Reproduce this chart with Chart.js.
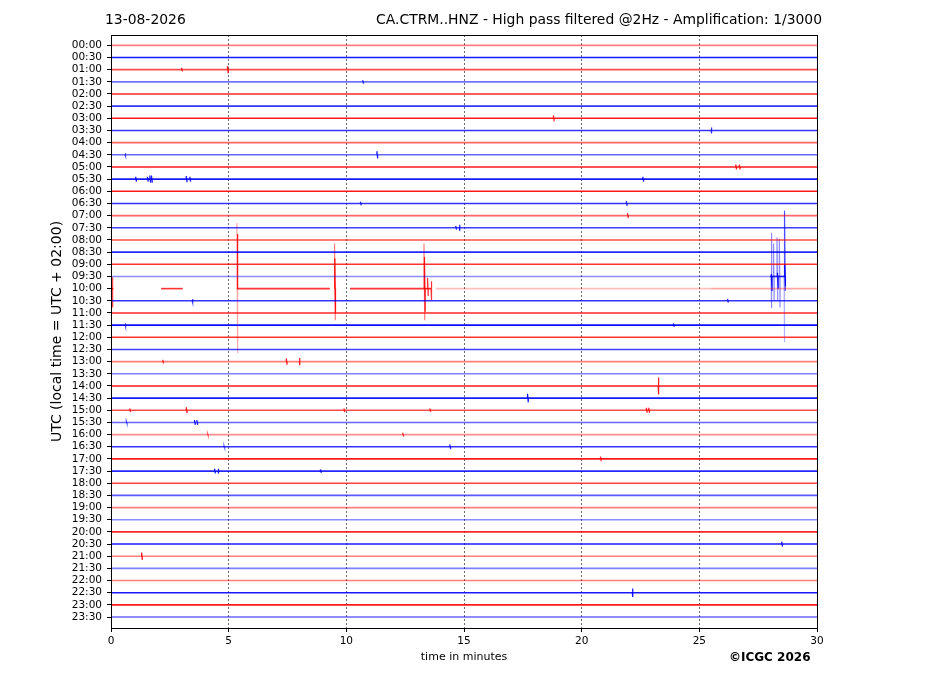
<!DOCTYPE html>
<html><head><meta charset="utf-8">
<script src="https://cdn.jsdelivr.net/npm/chart.js@4.4.1/dist/chart.umd.min.js"></script>
<style>html,body{margin:0;padding:0;background:#fff;}#wrap{width:927px;height:696px;position:relative;}</style>
</head><body><div id="wrap"><canvas id="c" width="927" height="696"></canvas></div>
<script>
const rowLabels = ["00:00","00:30","01:00","01:30","02:00","02:30","03:00","03:30","04:00","04:30",
  "05:00","05:30","06:00","06:30","07:00","07:30","08:00","08:30","09:00","09:30",
  "10:00","10:30","11:00","11:30","12:00","12:30","13:00","13:30","14:00","14:30",
  "15:00","15:30","16:00","16:30","17:00","17:30","18:00","18:30","19:00","19:30",
  "20:00","20:30","21:00","21:30","22:00","22:30","23:00","23:30"];
const xTicks = [0,5,10,15,20,25,30];
const rowAlpha = [0.5,0.9,0.7,0.55,0.85,0.8,0.9,0.8,0.6,0.6,
  0.9,0.9,0.9,0.8,0.6,0.75,0.7,0.85,0.8,0,
  0,0.8,0.85,0.95,0.8,0.75,0.5,0.5,0.9,0.9,
  0.7,0.6,0.45,0.8,0.9,0.85,0.75,0.65,0.5,0.45,
  0.85,0.9,0.5,0.5,0.5,0.9,0.9,0.6];
// broken / partial traces (09:30 and 10:00)
const segRow   = [19, 19, 20, 20, 20, 20, 20, 20, 20];
const segFrom  = [0, 28.0, 0, 2.13, 5.35, 10.16, 13.3, 13.8, 25.5];
const segTo    = [28.0, 28.65, 0.1, 3.05, 9.3, 13.3, 13.6, 25.5, 30];
const segAlpha = [0.45, 0.9, 0.9, 0.8, 0.8, 0.8, 0.9, 0.25, 0.35];
// events: row index, minute, amplitude up, amplitude down (row units), opacity
const evRow   = [20,20,20,20,20,20,20,20,20,
  19,19,19,19,19,19,19,19,19,
  2,2,3,6,7,9,9,10,10,11,11,11,11,11,11,11,13,13,14,15,15,
  21,21,23,23,26,26,26,28,29,30,30,30,30,30,30,31,31,31,32,32,33,33,34,35,35,35,41,42,45];
const evMin   = [0.05,5.35,5.36,9.5,9.51,13.3,13.32,13.45,13.6,
  28.05,28.06,28.15,28.3,28.32,28.4,28.62,28.63,28.6,
  4.95,3.0,10.7,18.8,25.5,11.3,0.6,26.55,26.7,1.05,1.55,1.65,1.72,3.2,3.35,22.6,10.6,21.9,21.95,14.65,14.8,
  3.45,26.2,0.6,23.9,2.2,7.45,8.0,23.25,17.7,0.8,3.2,9.9,13.55,22.75,22.85,3.55,3.65,0.65,12.4,4.1,14.4,4.8,20.8,4.4,4.55,8.9,28.5,1.3,22.15];
const evUp    = [0.93,5.4,4.5,3.7,2.5,3.7,2.6,0.9,0.6,
  3.6,0.2,2.7,3.2,0.3,3.1,5.4,1.0,0,
  0.3,0.15,0.15,0.25,0.25,0.3,0.12,0.2,0.2,0.2,0.2,0.3,0.3,0.25,0.2,0.2,0.15,0.2,0.2,0.15,0.25,
  0.15,0.15,0.15,0.15,0.15,0.25,0.3,0.7,0.35,0.15,0.25,0.15,0.15,0.2,0.2,0.2,0.2,0.1,0.15,0.1,0.2,0.1,0.2,0.2,0.2,0.15,0.2,0.3,0.35];
const evDown  = [1.56,5.3,0,2.6,2.0,2.6,1.9,0.6,0.95,
  2.6,1.2,2.0,2.0,1.0,2.55,1.2,0.8,5.4,
  0.3,0.15,0.15,0.25,0.25,0.3,0.12,0.2,0.2,0.2,0.2,0.3,0.3,0.25,0.2,0.2,0.15,0.2,0.2,0.15,0.25,
  0.15,0.15,0.15,0.15,0.15,0.25,0.3,0.7,0.35,0.15,0.25,0.15,0.15,0.2,0.2,0.2,0.2,0.1,0.15,0.1,0.2,0.1,0.2,0.2,0.2,0.15,0.2,0.3,0.35];
const evAlpha = [0.7,0.35,0.9,0.5,0.9,0.5,0.9,0.8,0.8,
  0.45,0.95,0.45,0.45,0.95,0.45,0.7,0.95,0.3,
  0.9,0.8,0.8,0.8,0.8,0.9,0.7,0.9,0.9,0.9,0.9,0.9,0.9,0.9,0.9,0.9,0.8,0.8,0.8,0.8,0.9,
  0.8,0.8,0.7,0.8,0.8,0.9,0.9,0.9,0.95,0.8,0.9,0.8,0.8,0.9,0.9,0.9,0.9,0.7,0.8,0.6,0.8,0.6,0.8,0.9,0.9,0.8,0.9,0.9,0.95];

function rowColor(i, a) { return (i % 2 === 0) ? `rgba(255,0,0,${a})` : `rgba(0,0,255,${a})`; }

const datasets = [];
rowLabels.forEach((lab, i) => {
  if (segRow.includes(i)) return;
  datasets.push({ data: [{x: 0, y: -i}, {x: 30, y: -i}], borderColor: rowColor(i, rowAlpha[i]), borderWidth: 1.6 });
});
segRow.forEach((r, k) => {
  datasets.push({ data: [{x: segFrom[k], y: -r}, {x: segTo[k], y: -r}], borderColor: rowColor(r, segAlpha[k]), borderWidth: 1.6 });
});
evRow.forEach((r, k) => {
  const m = evMin[k], w = 0.03;
  datasets.push({ data: [{x: m, y: -r}, {x: m, y: -r + evUp[k]}, {x: m + w, y: -r - evDown[k]}, {x: m + w, y: -r}],
    borderColor: rowColor(r, evAlpha[k]), borderWidth: 1.2 });
});

const textPlugin = {
  id: 'texts',
  afterDraw(chart) {
    const ctx = chart.ctx, a = chart.chartArea;
    ctx.save();
    ctx.strokeStyle = '#000'; ctx.lineWidth = 1;
    ctx.strokeRect(Math.round(a.left) + 0.5, Math.round(a.top) + 0.5, Math.round(a.right - a.left), Math.round(a.bottom - a.top));
    ctx.fillStyle = '#000';
    ctx.textBaseline = 'middle';
    ctx.font = '13.9px "DejaVu Sans"';
    ctx.textAlign = 'left';
    ctx.fillText('13-08-2026', 105, 20);
    ctx.textAlign = 'right';
    ctx.fillText('CA.CTRM..HNZ - High pass filtered @2Hz - Amplification: 1/3000', 822, 20);
    ctx.textAlign = 'center';
    ctx.font = '11px "DejaVu Sans"';
    ctx.fillText('time in minutes', (a.left + a.right) / 2, 657);
    ctx.font = 'bold 12px "DejaVu Sans"';
    ctx.textAlign = 'left';
    ctx.fillText('©ICGC 2026', 729, 658);
    ctx.translate(57, (a.top + a.bottom) / 2);
    ctx.rotate(-Math.PI / 2);
    ctx.textAlign = 'center';
    ctx.font = '14px "DejaVu Sans"';
    ctx.fillText('UTC (local time = UTC + 02:00)', 0, 0);
    ctx.restore();
  }
};

Chart.defaults.font.family = '"DejaVu Sans"';
new Chart(document.getElementById('c'), {
  type: 'line',
  data: { datasets },
  plugins: [textPlugin],
  options: {
    responsive: false, animation: false, events: [],
    layout: { padding: { top: 35, right: 110, left: 0, bottom: 0 } },
    elements: { point: { radius: 0 }, line: { tension: 0, fill: false } },
    plugins: { legend: { display: false }, tooltip: { enabled: false } },
    scales: {
      x: {
        type: 'linear', min: 0, max: 30,
        afterBuildTicks: s => { s.ticks = xTicks.map(v => ({ value: v })); },
        afterFit: s => { s.height = 68; },
        ticks: { color: '#000', font: { size: 10.5 }, padding: 3, maxRotation: 0, autoSkip: false },
        grid: {
          color: c => (c.tick && (c.tick.value === 0 || c.tick.value === 30)) ? 'rgba(0,0,0,0)' : '#444',
          lineWidth: 0.8, drawTicks: true, tickLength: 4, tickColor: '#000', tickWidth: 1, tickBorderDash: []
        },
        border: { display: true, color: '#000', width: 1, dash: [2, 2] }
      },
      y: {
        type: 'linear', min: -47.9, max: 0.85,
        afterBuildTicks: s => { s.ticks = rowLabels.map((_, i) => ({ value: -i })); },
        afterFit: s => { s.width = 111; },
        ticks: { color: '#000', font: { size: 10.5 }, padding: 5, autoSkip: false, callback: v => rowLabels[Math.round(-v)] },
        grid: { drawOnChartArea: false, drawTicks: true, tickLength: 4, tickColor: '#000', tickWidth: 1 },
        border: { display: true, color: '#000', width: 1 }
      }
    }
  }
});
</script>
</body></html>
